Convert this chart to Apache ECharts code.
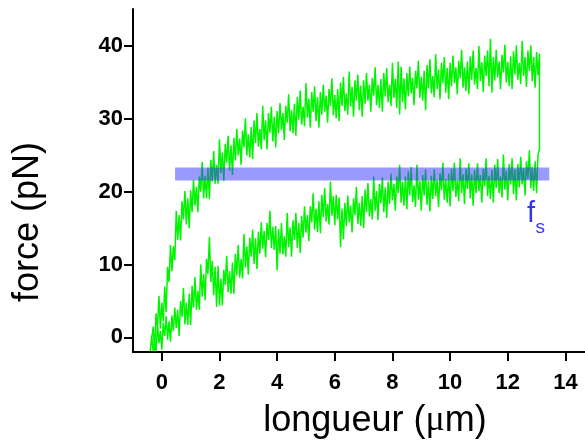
<!DOCTYPE html>
<html><head><meta charset="utf-8">
<script src="https://cdn.jsdelivr.net/npm/echarts@6/dist/echarts.min.js"></script>
<style>html,body{margin:0;padding:0;background:#fff}#c{width:585px;height:441px}</style>
</head><body><div id="c"></div>
<script>
// sampled positions (µm)
const lengthUm = [
  -0.4,-0.35,-0.3,-0.25,-0.2,-0.15,-0.1,-0.05,
  0,0.05,0.1,0.15,0.2,0.25,0.3,0.35,0.4,0.45,0.5,0.55,0.6,0.65,0.7,0.75,0.8,0.85,0.9,0.95,
  1,1.05,1.1,1.15,1.2,1.25,1.3,1.35,1.4,1.45,1.5,1.55,1.6,1.65,1.7,1.75,1.8,1.85,1.9,1.95,
  2,2.05,2.1,2.15,2.2,2.25,2.3,2.35,2.4,2.45,2.5,2.55,2.6,2.65,2.7,2.75,2.8,2.85,2.9,2.95,
  3,3.05,3.1,3.15,3.2,3.25,3.3,3.35,3.4,3.45,3.5,3.55,3.6,3.65,3.7,3.75,3.8,3.85,3.9,3.95,
  4,4.05,4.1,4.15,4.2,4.25,4.3,4.35,4.4,4.45,4.5,4.55,4.6,4.65,4.7,4.75,4.8,4.85,4.9,4.95,
  5,5.05,5.1,5.15,5.2,5.25,5.3,5.35,5.4,5.45,5.5,5.55,5.6,5.65,5.7,5.75,5.8,5.85,5.9,5.95,
  6,6.05,6.1,6.15,6.2,6.25,6.3,6.35,6.4,6.45,6.5,6.55,6.6,6.65,6.7,6.75,6.8,6.85,6.9,6.95,
  7,7.05,7.1,7.15,7.2,7.25,7.3,7.35,7.4,7.45,7.5,7.55,7.6,7.65,7.7,7.75,7.8,7.85,7.9,7.95,
  8,8.05,8.1,8.15,8.2,8.25,8.3,8.35,8.4,8.45,8.5,8.55,8.6,8.65,8.7,8.75,8.8,8.85,8.9,8.95,
  9,9.05,9.1,9.15,9.2,9.25,9.3,9.35,9.4,9.45,9.5,9.55,9.6,9.65,9.7,9.75,9.8,9.85,9.9,9.95,
  10,10.05,10.1,10.15,10.2,10.25,10.3,10.35,10.4,10.45,10.5,10.55,10.6,10.65,10.7,10.75,10.8,10.85,10.9,10.95,
  11,11.05,11.1,11.15,11.2,11.25,11.3,11.35,11.4,11.45,11.5,11.55,11.6,11.65,11.7,11.75,11.8,11.85,11.9,11.95,
  12,12.05,12.1,12.15,12.2,12.25,12.3,12.35,12.4,12.45,12.5,12.55,12.6,12.65,12.7,12.75,12.8,12.85,12.9,12.95,
  13,13.05,13.1
];
// extension (upper) trace, pN
const extensionPN = [
  -1.9,-1.7,1.5,-1.8,3.3,1.4,5.7,1.2,
  4.8,2.2,7.0,3.5,9.7,7.6,12.7,9.1,12.5,10.6,17.4,13.4,16.8,13.3,18.7,16.2,20.1,15.5,19.1,15.0,
  20.2,17.2,21.6,18.1,20.7,17.2,22.1,20.0,24.1,19.1,22.2,19.1,23.3,19.0,24.4,21.4,25.6,21.1,23.7,21.1,
  27.2,22.6,25.4,21.5,26.6,24.0,27.7,22.9,26.4,22.3,27.4,24.3,28.6,25.0,27.3,23.7,28.4,26.1,30.1,25.0,
  27.9,24.7,28.9,24.5,29.8,26.7,30.8,26.2,28.6,25.8,31.8,27.1,29.8,25.8,30.8,28.1,31.7,26.9,30.3,26.1,
  31.1,28.0,32.2,28.5,30.8,27.1,31.8,29.5,33.4,28.3,31.2,28.0,32.1,27.7,33.0,29.9,33.9,29.2,31.7,29.0,
  34.9,30.2,32.8,28.8,33.7,31.0,34.5,29.7,33.0,28.8,33.7,30.6,34.7,31.0,33.2,29.5,34.1,31.8,35.6,30.5,
  33.3,30.1,34.1,29.7,35.0,31.8,35.8,31.1,33.5,30.6,36.5,31.7,34.4,30.3,35.3,32.5,36.1,31.2,34.6,30.3,
  35.3,32.1,36.3,32.5,34.7,31.0,35.6,33.2,37.1,31.9,34.7,31.5,35.5,31.0,36.3,33.1,37.0,32.3,34.7,31.8,
  37.7,32.9,35.5,31.5,37.9,30.6,37.2,32.3,35.6,31.3,36.3,33.1,37.2,33.5,35.7,31.9,36.6,34.2,38.0,32.9,
  35.8,32.5,36.6,31.2,37.4,34.2,38.2,33.5,35.9,33.0,38.9,34.1,36.8,32.7,37.7,34.9,38.5,33.6,37.0,32.7,
  37.7,34.5,38.7,34.9,37.1,33.4,38.0,35.6,39.5,34.3,37.1,33.8,37.9,33.4,38.6,35.4,39.4,34.7,37.0,34.1,
  40.0,35.2,37.8,33.7,38.7,35.9,39.4,34.5,41.0,33.6,38.5,35.3,39.5,35.7,37.9,34.1,38.8,36.4,40.2,35.0,
  37.8,34.5,38.6,34.1,39.3,36.1,40.1,35.4,37.7,34.8,40.7,35.9,38.5,34.4,39.4,36.6,40.1,35.2,38.5,34.3,
  39.2,36.0,39.0
];
// retraction (lower) trace, pN
const retractionPN = [
  -1.9,0.3,-1.9,-0.4,-1.9,1.8,-0.8,0.9,
  -1.7,2.0,0.2,2.9,-0.3,2.2,-0.6,3.0,0.9,4.1,1.3,3.8,0.2,5.0,2.8,6.8,1.8,4.8,1.7,6.0,
  1.7,7.1,4.1,8.3,3.8,6.4,3.8,10.0,5.6,8.7,5.1,10.8,8.7,13.8,7.6,10.5,5.8,9.7,4.2,9.8,
  4.4,8.1,4.4,9.3,7.2,11.2,6.2,9.1,6.0,10.3,6.0,11.5,8.5,12.7,8.2,10.8,8.1,14.2,9.6,12.5,
  8.6,13.7,11.1,14.8,10.1,13.6,9.4,14.5,11.5,15.8,12.2,14.6,11.0,15.7,13.4,17.4,12.3,15.2,12.0,15.3,
  9.2,14.9,11.5,15.7,11.4,13.9,11.1,17.1,12.4,15.1,11.1,16.1,13.4,17.1,12.3,15.7,11.6,16.7,13.7,18.0,
  14.4,16.8,13.2,18.0,15.8,19.8,14.8,17.7,14.5,18.7,14.3,19.6,16.5,20.5,15.9,18.3,15.5,21.4,16.7,19.4,
  15.4,19.6,16.2,19.2,12.4,17.7,13.5,18.5,15.3,19.5,15.8,18.1,14.4,19.1,16.8,20.7,15.6,18.5,15.3,19.4,
  15.0,20.3,17.2,21.2,16.6,19.0,16.2,22.1,17.4,20.1,16.1,21.1,18.4,22.0,17.2,20.6,16.4,21.4,18.3,22.5,
  18.8,21.1,17.4,22.1,19.8,23.7,18.5,21.4,18.1,22.1,17.6,22.8,19.5,23.4,18.6,20.9,17.9,23.7,18.9,21.5,
  17.4,22.3,19.5,23.1,18.2,21.5,17.3,22.2,19.0,23.1,19.4,21.6,17.9,22.5,20.2,24.0,18.9,21.7,18.5,22.5,
  18.0,23.2,20.1,24.0,19.3,21.6,18.7,24.6,19.8,22.4,18.3,23.2,20.4,23.9,19.1,22.4,18.1,23.0,19.8,23.9,
  20.1,22.3,18.5,23.2,20.8,24.6,19.4,22.2,19.0,23.0,18.5,23.7,20.5,24.5,19.8,22.1,19.2,25.1,20.3,22.9,
  18.8,23.8,21.0,24.6,19.7,23.1,18.8,23.8,20.6,24.8,21.0,23.3,19.5,24.2,21.8,25.7,20.5,23.4,20.1,24.2,
  19.8,25.1,25.8
];
const xTicks = [0,2,4,6,8,10,12,14];
const yTicks = [0,10,20,30,40];
const plateauForce = 22.45;          // f_s
const plateauRange = [0.46, 13.44];  // µm

// one continuous trace: extension out, then retraction back
const n = Math.min(lengthUm.length, extensionPN.length, retractionPN.length);
const ext = [], ret = [];
for (let i = 0; i < n; i++) { ext.push([lengthUm[i], extensionPN[i]]); ret.push([lengthUm[i], retractionPN[i]]); }
const trace = ext.concat(ret.reverse());
const plateau = plateauRange.map(x=>[x, plateauForce]);

const FONT = '"Liberation Sans", Arial, sans-serif';
const chart = echarts.init(document.getElementById('c'), null, {renderer:'canvas'});
chart.setOption({
  animation:false,
  backgroundColor:'#fff',
  grid:{left:133, right:0, top:9, bottom:89, containLabel:false},
  xAxis:{
    type:'value', min:-1, max:14.68,
    axisLine:{onZero:false, lineStyle:{color:'#000', width:2}},
    axisTick:{customValues:xTicks, length:9, lineStyle:{color:'#000', width:2}},
    axisLabel:{customValues:xTicks, color:'#000', fontSize:22, fontWeight:'bold', fontFamily:FONT, margin:20},
    splitLine:{show:false}
  },
  yAxis:{
    type:'value', min:-2, max:45.1,
    axisLine:{onZero:false, lineStyle:{color:'#000', width:2}},
    axisTick:{customValues:yTicks, length:9, lineStyle:{color:'#000', width:2}},
    axisLabel:{customValues:yTicks, color:'#000', fontSize:22, fontWeight:'bold', fontFamily:FONT, margin:10},
    splitLine:{show:false}
  },
  series:[
    {type:'line', data:trace, showSymbol:false, symbol:'none', z:2,
     lineStyle:{color:'#00f400', width:1.5}},
    {type:'line', data:plateau, showSymbol:false, symbol:'none', z:3,
     lineStyle:{color:'rgba(51,51,255,0.5)', width:13, cap:'butt'}}
  ],
  graphic:[
    {type:'text', x:375, y:421, z:10,
     style:{text:'{a|longueur (}{m|\u03bc}{a|m)}', align:'center', verticalAlign:'middle',
       rich:{a:{fontSize:36, fontFamily:FONT, fill:'#000'}, m:{fontSize:36, fontFamily:'"Liberation Serif", serif', fill:'#000'}}}},
    {type:'text', x:28, y:222, rotation:Math.PI/2, z:10,
     style:{text:'force (pN)', font:'36px ' + FONT, fill:'#000', align:'center', verticalAlign:'middle'}},
    {type:'text', x:527, y:214, z:10,
     style:{text:'f', font:'29px ' + FONT, fill:'#3636f0', align:'left', verticalAlign:'middle'}},
    {type:'text', x:535.5, y:227.5, z:10,
     style:{text:'s', font:'19px ' + FONT, fill:'#3636f0', align:'left', verticalAlign:'middle'}}
  ]
});
</script>
</body></html>
